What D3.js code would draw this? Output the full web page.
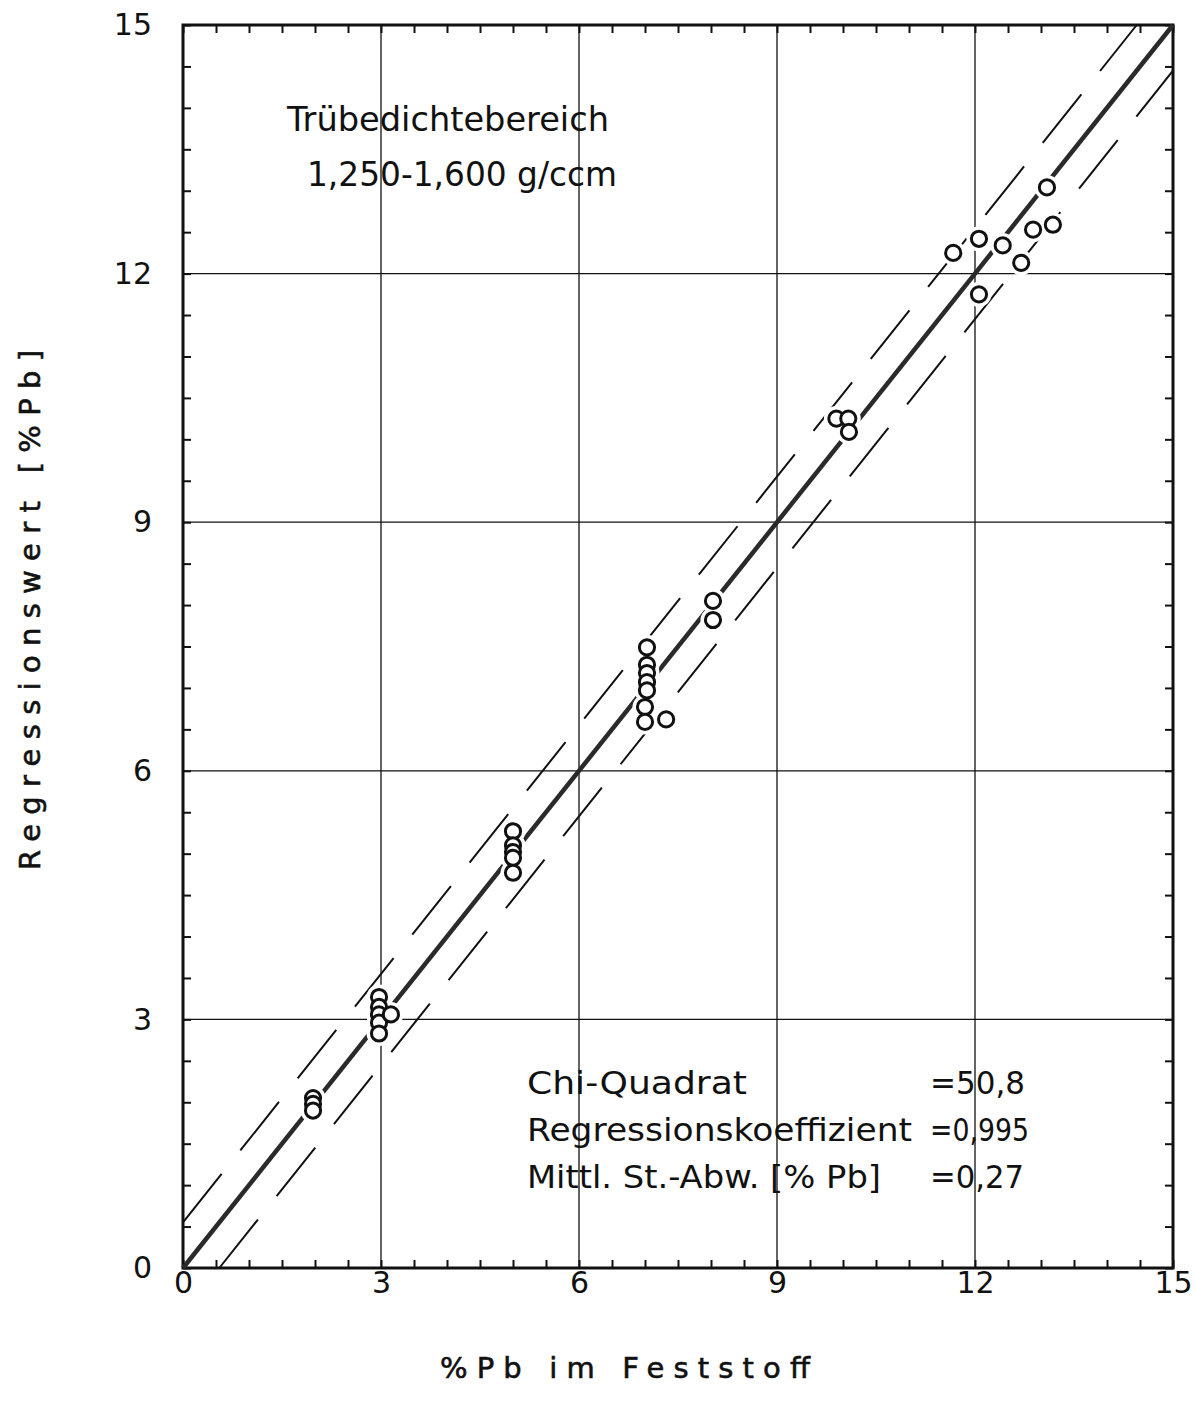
<!DOCTYPE html>
<html><head><meta charset="utf-8">
<script src="https://cdn.jsdelivr.net/npm/d3@7"></script>
<style>body{margin:0;background:#fff}svg{display:block}</style>
</head><body>
<svg id="c" width="1195" height="1414"></svg>
<script>
const xTickLabels = [0, 3, 6, 9, 12, 15];
const yTickLabels = [0, 3, 6, 9, 12, 15];
const xObserved = [1.97,1.97,1.97, 2.97,2.97,2.97,2.97,2.97,3.15, 5.0,5.0,5.0,5.0,5.0, 7.03,7.03,7.03,7.03,7.03,7.0,7.0,7.32, 8.03,8.03, 9.9,10.08,10.09, 11.67,12.06,12.06,12.42,12.7,12.88,13.18,13.09];
const yRegression = [2.05,1.98,1.9, 3.27,3.15,3.06,2.96,2.83,3.06, 5.27,5.1,5.02,4.95,4.77, 7.49,7.28,7.18,7.07,6.97,6.77,6.59,6.62, 8.05,7.82, 10.25,10.25,10.09, 12.25,12.42,11.75,12.34,12.13,12.53,12.59,13.04];
const bandOffset = [0.55, -0.55];
const statLabels = ["Chi-Quadrat", "Regressionskoeffizient", "Mittl. St.-Abw. [% Pb]"];
const statValues = ["=50,8", "=0,995", "=0,27"];

const svg = d3.select("#c");
const font = "'DejaVu Sans', sans-serif";
const x = d3.scaleLinear().domain([0, 15]).range([183, 1173]);
const y = d3.scaleLinear().domain([0, 15]).range([1268, 25]);

// gridlines
svg.append("g").selectAll("line").data([3,6,9,12]).join("line")
  .attr("x1", d => x(d)).attr("x2", d => x(d)).attr("y1", y(0)).attr("y2", y(15))
  .attr("stroke", "#111").attr("stroke-width", 1.3);
svg.append("g").selectAll("line").data([3,6,9,12]).join("line")
  .attr("y1", d => y(d)).attr("y2", d => y(d)).attr("x1", x(0)).attr("x2", x(15))
  .attr("stroke", "#111").attr("stroke-width", 1.3);

// minor ticks inward on all sides
const minor = d3.range(0, 15.001, 0.5);
function tickAxis(axis, tr) {
  const g = svg.append("g").attr("transform", tr).call(axis.tickValues(minor).tickSize(-8).tickFormat(""));
  g.select(".domain").remove();
  g.selectAll("line").attr("stroke", "#111").attr("stroke-width", 2);
}
tickAxis(d3.axisBottom(x), `translate(0,${y(0)})`);
tickAxis(d3.axisTop(x), `translate(0,${y(15)})`);
tickAxis(d3.axisLeft(y), `translate(${x(0)},0)`);
tickAxis(d3.axisRight(y), `translate(${x(15)},0)`);

// tick labels
const gx = svg.append("g").attr("transform", `translate(0,${y(0)})`)
  .call(d3.axisBottom(x).tickValues(xTickLabels).tickSize(0).tickPadding(4));
gx.select(".domain").remove();
gx.selectAll("text").attr("font-family", font).attr("font-size", 30).attr("fill", "#111");
const gy = svg.append("g").attr("transform", `translate(${x(0)},0)`)
  .call(d3.axisLeft(y).tickValues(yTickLabels).tickSize(0).tickPadding(31));
gy.select(".domain").remove();
gy.selectAll("text").attr("font-family", font).attr("font-size", 30).attr("fill", "#111");

// frame
svg.append("rect").attr("x", x(0)).attr("y", y(15)).attr("width", x(15)-x(0)).attr("height", y(0)-y(15))
  .attr("fill", "none").attr("stroke", "#111").attr("stroke-width", 3);

// dashed band lines
const line = d3.line().x(d => x(d[0])).y(d => y(d[1]));
bandOffset.forEach(o => {
  const pts = o > 0 ? [[0, o], [15 - o, 15]] : [[-o, 0], [15, 15 + o]];
  svg.append("path").attr("d", line(pts)).attr("fill", "none").attr("stroke", "#111")
    .attr("stroke-width", 2).attr("stroke-dasharray", "62,30");
});
// regression line
svg.append("path").attr("d", line([[0,0],[15,15]])).attr("fill", "none")
  .attr("stroke", "#2a2a2a").attr("stroke-width", 4.5);

// points with halo
const pts = xObserved.map((v, i) => [v, yRegression[i]]);
svg.append("g").selectAll("circle").data(pts).join("circle")
  .attr("cx", d => x(d[0])).attr("cy", d => y(d[1])).attr("r", 8)
  .attr("fill", "#fff").attr("stroke", "#fff").attr("stroke-width", 9);
svg.append("g").selectAll("circle").data(pts).join("circle")
  .attr("cx", d => x(d[0])).attr("cy", d => y(d[1])).attr("r", 7.6)
  .attr("fill", "#fff").attr("stroke", "#111").attr("stroke-width", 3);

// annotations
function txt(t, xx, yy, size, len) {
  return svg.append("text").attr("x", xx).attr("y", yy).attr("font-family", font).attr("font-size", size)
    .attr("fill", "#111").attr("textLength", len).attr("lengthAdjust", "spacingAndGlyphs").text(t);
}
txt("Trübedichtebereich", 287, 131, 34, 322);
txt("1,250-1,600 g/ccm", 307, 186, 34, 310);

const statLenL = [220, 385, 354];
const statLenR = [95, 99, 94];
statLabels.forEach((t, i) => {
  txt(t, 527, 1094 + i*47, 32, statLenL[i]);
  txt(statValues[i], 930, 1094 + i*47, 32, statLenR[i]);
});

// axis titles
svg.append("text").attr("x", 440).attr("y", 1378).attr("font-family", font).attr("font-size", 29)
  .attr("fill", "#111").attr("stroke", "#111").attr("stroke-width", 0.6)
  .attr("textLength", 370).text("%Pb im Feststoff");
svg.append("text").attr("transform", "translate(40,870) rotate(-90)").attr("font-family", font)
  .attr("font-size", 29).attr("fill", "#111").attr("stroke", "#111").attr("stroke-width", 0.6)
  .attr("textLength", 520).text("Regressionswert [%Pb]");
</script>
</body></html>
